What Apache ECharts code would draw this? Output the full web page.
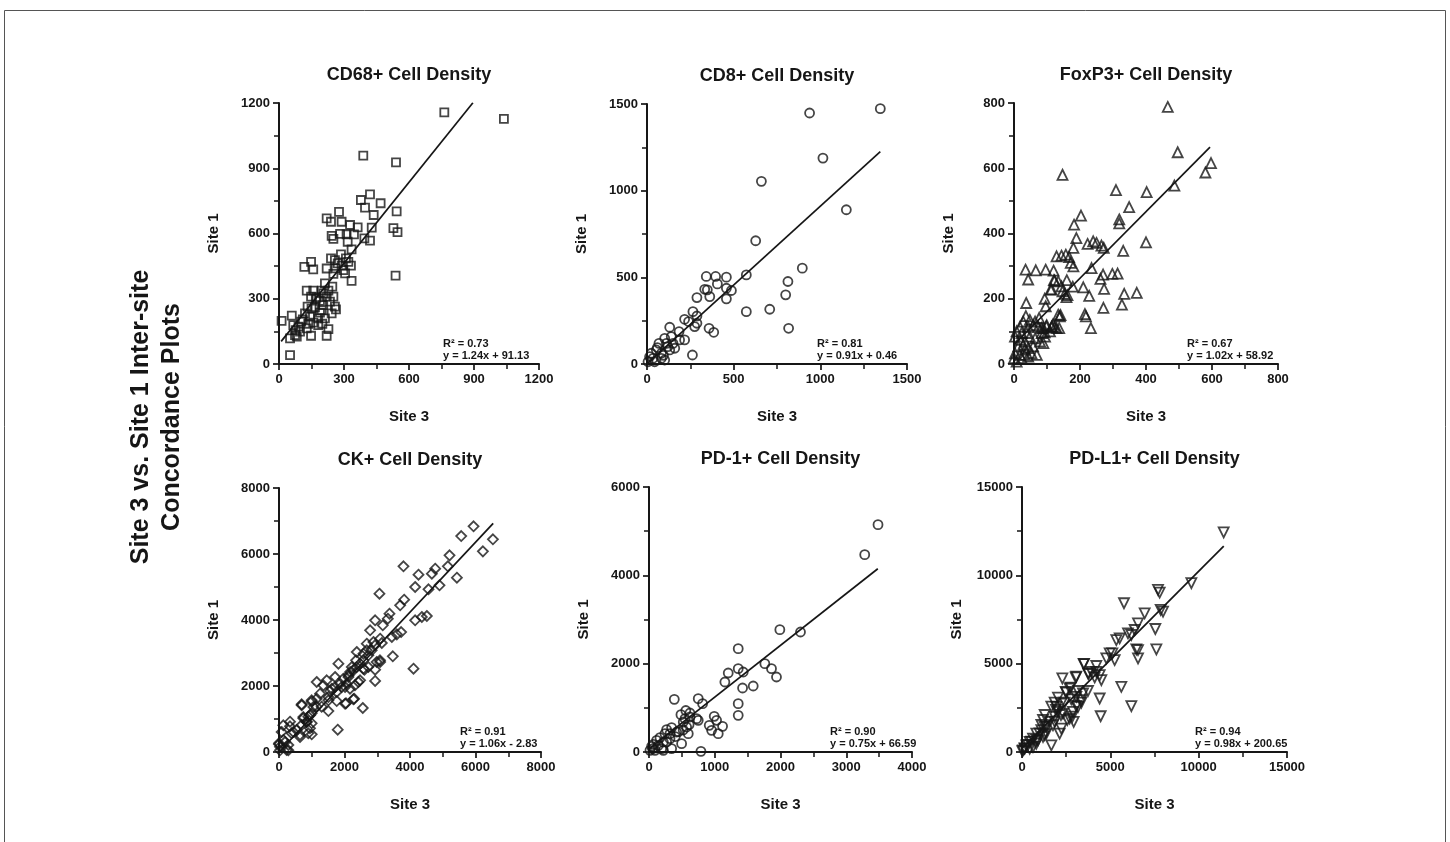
<!DOCTYPE html>
<html>
<head>
<meta charset="utf-8">
<script src="https://cdn.jsdelivr.net/npm/echarts@6/dist/echarts.min.js"></script>
<style>
html,body{margin:0;padding:0;background:#fff;}
#chart{width:1450px;height:842px;}
</style>
</head>
<body>
<div id="chart"></div>
<script>
// ---------------- DATA (x = Site 3, y = Site 1) ----------------
const panelTitles = ['CD68+ Cell Density','CD8+ Cell Density','FoxP3+ Cell Density','CK+ Cell Density','PD-1+ Cell Density','PD-L1+ Cell Density'];
const xAxisName = 'Site 3';
const yAxisName = 'Site 1';
const mainTitle = 'Site 3 vs. Site 1 Inter-site\nConcordance Plots';

const xMax = [1200, 1500, 800, 8000, 4000, 15000];
const xStep = [300, 500, 200, 2000, 1000, 5000];
const yMax = [1200, 1500, 800, 8000, 6000, 15000];
const yStep = [300, 500, 200, 2000, 2000, 5000];

const r2Labels = ['R² = 0.73','R² = 0.81','R² = 0.67','R² = 0.91','R² = 0.90','R² = 0.94'];
const eqLabels = ['y = 1.24x + 91.13','y = 0.91x + 0.46','y = 1.02x + 58.92','y = 1.06x - 2.83','y = 0.75x + 66.59','y = 0.98x + 200.65'];

const cd68 = [
[763,1157],[1038,1127],[389,958],[540,927],[543,702],[528,625],[547,606],[538,406],
[420,780],[378,754],[397,719],[469,739],[437,685],[277,699],[220,670],[240,654],[289,654],[328,639],[363,628],[428,627],
[346,596],[312,596],[282,598],[243,589],[251,575],[317,562],[394,578],[420,567],[335,527],[286,504],[240,486],[258,478],
[309,486],[320,470],[289,452],[332,452],[297,432],[305,417],[335,382],[271,463],[262,440],[220,439],[251,414],[148,470],
[117,447],[158,435],[212,371],[246,356],[128,337],[158,337],[197,337],[228,337],[148,310],[174,307],[220,310],[251,310],
[189,290],[235,287],[132,264],[166,261],[204,271],[258,264],[263,251],[189,236],[120,233],[59,222],[12,198],[143,218],
[212,210],[102,195],[158,190],[181,179],[228,160],[66,179],[77,156],[128,164],[148,130],[220,130],[74,133],[97,149],
[51,118],[82,126],[51,41],[181,210],[197,248],[243,233],[170,300],[205,325],[150,255],[110,205],[90,172],[135,185],[200,185]
];
const cd8 = [
[1346,1473],[938,1448],[1015,1188],[1150,890],[660,1054],[627,711],[896,553],[573,514],[813,476],[800,399],[573,302],
[708,316],[817,206],[342,505],[396,505],[458,501],[333,431],[348,428],[406,462],[458,437],[487,424],[458,376],[362,389],
[288,383],[358,206],[385,183],[262,52],[265,302],[288,277],[275,216],[288,235],[217,258],[240,245],[131,212],[185,187],
[188,139],[140,158],[160,91],[102,148],[112,119],[69,119],[54,81],[83,62],[25,62],[35,33],[6,13],[102,23],[131,81],
[15,42],[44,13],[83,33],[150,119],[217,139],[60,95],[120,100],[95,50]
];
const foxp3 = [
[466,788],[496,649],[597,616],[580,587],[486,547],[147,580],[309,533],[402,527],[349,481],[319,443],[319,431],[400,373],
[331,347],[203,455],[182,427],[189,386],[180,356],[223,368],[240,376],[250,371],[265,363],[272,356],[129,330],[144,332],
[157,335],[167,328],[172,310],[180,299],[235,294],[270,274],[262,261],[298,276],[273,230],[314,277],[334,215],[372,218],
[327,182],[271,172],[215,153],[218,146],[233,110],[210,235],[228,209],[120,286],[123,256],[35,289],[66,287],[96,289],
[43,259],[37,187],[93,200],[96,177],[111,228],[134,253],[144,238],[154,215],[159,205],[147,223],[134,151],[139,146],
[118,121],[137,110],[115,115],[98,115],[83,110],[93,97],
[36,147],[48,135],[64,130],[76,141],[28,130],[18,114],[43,114],[58,119],[74,114],[89,110],[99,119],[114,114],[129,110],
[84,95],[94,84],[109,100],[8,100],[23,95],[38,95],[48,84],[64,79],[79,69],[89,64],[3,84],[18,74],[33,69],[13,54],[28,59],
[43,49],[58,54],[53,33],[69,28],[3,33],[18,28],[33,28],[0,18],[8,7],[23,18],[43,23],[33,44],
[121,257],[114,229],[160,257],[178,237],[162,211],[141,150],[124,114]
];
const ck = [
[5941,6838],[6532,6444],[6226,6080],[5564,6545],[5432,5282],[5207,5959],[5156,5626],[4901,5050],[4769,5555],[4667,5404],
[4565,4929],[4259,5373],[4157,5000],[3801,5626],[4157,3990],[4361,4091],[4514,4121],[4107,2525],[3821,4616],[3699,4444],
[3729,3636],[3597,3565],[3067,4798],[2935,3990],[3373,4192],[3322,4040],[3445,3485],[3475,2899],[3169,3838],[3088,3434],
[3139,3303],[2782,3687],[2884,3333],[2680,3081],[2578,2980],[2680,3283],[2374,3030],[3088,2727],[2935,2495],[2935,2152],
[2609,2495],[2476,2677],[2354,2778],[2476,2172],[2293,1616],[2558,1333],[2018,1465],[2222,2576],[2171,2424],[2120,2273],
[1814,2677],[1712,2273],[1865,2071],[2018,1970],[1610,1919],[1763,1818],[1457,2172],[1355,2020],[1508,1566],[1763,1545],
[1508,1242],[1151,2121],[1253,1768],[1151,1616],[999,1566],[1049,1364],[948,1111],[846,909],[744,1060],[693,1414],
[999,535],[642,454],[438,606],[336,778],[132,808],[81,606],[0,232],[30,51],[183,303],[285,51],[1793,677],
[0,263],[132,364],[285,212],[234,61],[30,162],[336,919],[386,566],[539,667],[692,818],[845,919],[997,869],[641,515],
[895,566],[946,717],[743,1020],[895,1071],[997,1172],[692,1444],[997,1525],[1149,1374],[1302,1374],[2048,1475],[2272,1596],
[1557,1848],[1710,1969],[1506,1666],[1913,1969],[2066,2070],[2168,1919],[2320,2020],[2422,2121],[1964,2222],[2117,2323],
[2270,2474],[2372,2575],[2575,2777],[2728,2929],[2830,3080],[2931,3232],[2575,2525],[2728,2575],[2982,2727],[3084,2777]
];
const pd1 = [
[3483,5147],[3281,4468],[1990,2770],[2304,2717],[1357,2340],[1762,2000],[1863,1887],[1939,1698],[1357,1887],[1433,1811],
[1205,1789],[1154,1585],[1423,1449],[1585,1494],[1357,1094],[1357,830],[1119,581],[1053,415],[992,808],[1028,717],
[916,604],[952,491],[749,1208],[815,1094],[724,755],[749,717],[623,792],[385,1192],[486,845],[521,679],[623,883],
[547,755],[572,566],[597,415],[496,189],[790,15],[344,551],[420,453],[319,415],[268,506],[243,415],[167,325],[344,75],
[116,264],[66,174],[56,75],[15,38],[40,128],[142,151],[218,226],[268,226],[319,302],[192,75],[91,38],[218,38],
[560,940],[610,620],[450,460],[400,350],[520,500]
];
const pdl1 = [
[11415,12430],[9586,9555],[7699,9176],[7793,9025],[7850,8041],[7982,7946],[5774,8419],[6944,7852],[7548,6963],[7605,5808],
[6567,7284],[6378,6906],[6189,6622],[6000,6717],[5529,6433],[5340,6338],[6472,5808],[6567,5770],[6567,5297],[5114,5581],
[4963,5581],[4774,5297],[5246,5203],[5623,3690],[6189,2592],[4397,4352],[4491,4068],[4208,4541],[4114,4219],[3925,4541],
[3491,4976],[3736,4446],[4397,3027],[4453,2024],[3038,4219],[2283,4162],[2698,3595],[2472,3406],[3076,3122],[3359,2933],
[3453,3311],[3170,2554],[2887,2270],[2698,1892],[2925,1703],[2227,2743],[1944,2554],[2038,2270],[2321,2176],[1849,1987],
[1566,1703],[1755,1514],[2227,1324],[2132,1041],[1283,1419],[1094,1230],[1377,1041],[1189,851],[1661,378],[811,1041],
[623,757],[434,568],[906,662],[245,378],[434,189],[151,189],[623,284],[811,473],[57,95],
[3076,4262],[3509,4980],[4207,4867],[3773,4415],[2754,3641],[2509,3358],[3170,3452],[3736,3452],[3358,2792],[3075,2603],
[2792,2981],[2415,2792],[2037,3075],[1849,2792],[1660,2566],[1924,2377],[2207,2094],[1849,1717],[1283,2094],[1189,1811],
[1094,1528],[1377,1434],[1000,1057],[1283,962],[811,679],[528,585],[340,396],[151,208],[20,50],[2566,1811],[2849,2000]
];

// fitted regression lines as drawn in the figure (start and end points)
const fitCD68 = [[10,104],[895,1201]];
const fitCD8 = [[0,0.46],[1346,1225]];
const fitFoxP3 = [[0,59],[594,665]];
const fitCK = [[0,0],[6540,6930]];
const fitPD1 = [[0,70],[3480,4150]];
const fitPDL1 = [[0,200],[11420,11650]];

// ---------------- LAYOUT / STYLE ----------------
const datasets = [cd68, cd8, foxp3, ck, pd1, pdl1];
const fits = [fitCD68, fitCD8, fitFoxP3, fitCK, fitPD1, fitPDL1];
const grids = [
  {left:279, top:103, width:260, height:261},
  {left:647, top:104, width:260, height:260},
  {left:1014, top:103, width:264, height:261},
  {left:279, top:488, width:262, height:264},
  {left:649, top:487, width:263, height:265},
  {left:1022, top:487, width:265, height:265}
];
const symbols = ['rect','circle','triangle','diamond','circle','triangle'];
const symbolSizes = [8, 9, 10, 10, 9, 10];
const symbolRotates = [0, 0, 0, 0, 0, 180];
const annOffsets = [164, 170, 173, 181, 181, 173];
const FONT = '"Liberation Sans", Arial, Helvetica, sans-serif';
const INK = '#161616';

const chart = echarts.init(document.getElementById('chart'), null, {renderer:'canvas'});

const xAxes = [], yAxes = [], series = [], titles = [], graphics = [];
grids.forEach((g, i) => {
  const axisCommon = {
    type:'value', min:0, gridIndex:i,
    axisLine:{show:true, onZero:false, lineStyle:{color:INK, width:2}},
    axisTick:{show:true, inside:false, length:6, lineStyle:{color:INK, width:1.7}},
    minorTick:{show:true, splitNumber:2, length:5, lineStyle:{color:INK, width:1.5}},
    splitLine:{show:false},
    axisLabel:{color:INK, fontFamily:FONT, fontWeight:'bold', fontSize:13, margin:9, formatter:v => String(v)},
    nameLocation:'middle',
    nameTextStyle:{color:INK, fontFamily:FONT, fontWeight:'bold', fontSize:15}
  };
  xAxes.push(Object.assign({}, axisCommon, {max:xMax[i], interval:xStep[i], name:xAxisName, nameGap:45}));
  yAxes.push(Object.assign({}, axisCommon, {max:yMax[i], interval:yStep[i], name:yAxisName, nameGap:58}));
  series.push({
    type:'scatter', xAxisIndex:i, yAxisIndex:i, data:datasets[i],
    symbol:symbols[i], symbolSize:symbolSizes[i], symbolRotate:symbolRotates[i],
    itemStyle:{color:'rgba(0,0,0,0)', borderColor:INK, borderWidth:1.8},
    silent:true, z:2
  });
  series.push({
    type:'line', xAxisIndex:i, yAxisIndex:i, data:fits[i],
    symbol:'none', showSymbol:false, silent:true,
    lineStyle:{color:INK, width:1.7}, z:3
  });
  titles.push({
    text:panelTitles[i], left:g.left + g.width/2, top:g.top - 37, textAlign:'center', padding:0,
    textStyle:{color:INK, fontFamily:FONT, fontWeight:'bold', fontSize:18}
  });
  const bottom = g.top + g.height;
  graphics.push({
    type:'text', x:g.left + annOffsets[i], y:bottom - 20, silent:true,
    style:{text:r2Labels[i], font:'bold 11px ' + FONT, fill:INK, align:'left', verticalAlign:'middle', textAlign:'left', textVerticalAlign:'middle'}
  });
  graphics.push({
    type:'text', x:g.left + annOffsets[i], y:bottom - 8, silent:true,
    style:{text:eqLabels[i], font:'bold 11px ' + FONT, fill:INK, align:'left', verticalAlign:'middle', textAlign:'left', textVerticalAlign:'middle'}
  });
});

graphics.push({
  type:'text', x:157, y:417, rotation:Math.PI/2, silent:true,
  style:{text:mainTitle, font:'bold 25px ' + FONT, fill:INK, align:'center', verticalAlign:'middle',
         textAlign:'center', textVerticalAlign:'middle', lineHeight:31}
});
graphics.push({
  type:'rect', silent:true, z:-1,
  shape:{x:4.5, y:10.5, width:1441, height:840},
  style:{fill:'none', stroke:'#555', lineWidth:1}
});

chart.setOption({
  animation:false,
  backgroundColor:'#fff',
  title:titles,
  grid:grids.map(g => Object.assign({containLabel:false}, g)),
  xAxis:xAxes,
  yAxis:yAxes,
  series:series,
  graphic:graphics
});
</script>
</body>
</html>
